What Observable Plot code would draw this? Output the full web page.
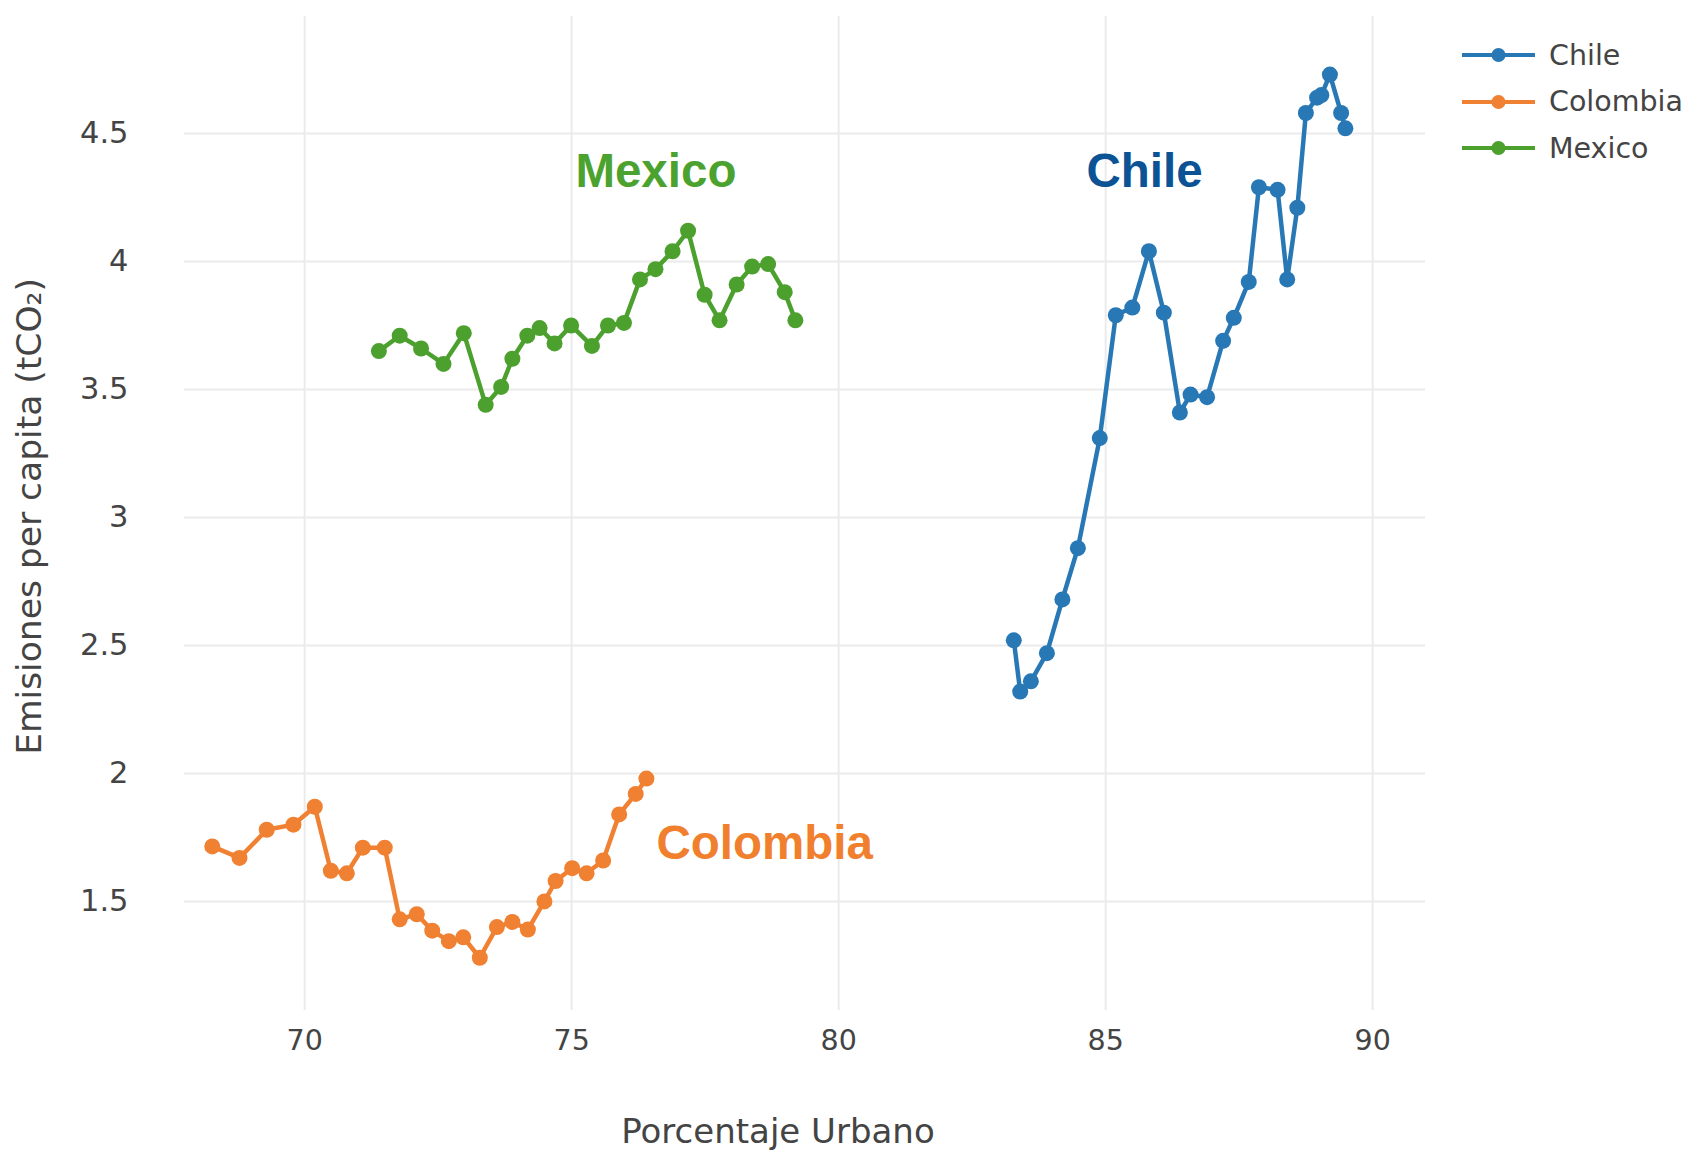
<!DOCTYPE html>
<html>
<head>
<meta charset="utf-8">
<script src="https://cdn.jsdelivr.net/npm/d3@7"></script>
<script src="https://cdn.jsdelivr.net/npm/@observablehq/plot@0.6"></script>
<style>
  html, body { margin: 0; padding: 0; background: #fff; }
  #wrap { position: relative; width: 1695px; height: 1158px; overflow: hidden; }
  #legend { position: absolute; left: 1462px; top: 32px; font-family: "DejaVu Sans", Verdana, sans-serif; font-size: 28.5px; color: #444; }
  #legend .row { display: flex; align-items: center; height: 46.5px; }
  #legend svg { margin-right: 14px; }
</style>
</head>
<body>
<div id="wrap"><div id="chart"></div><div id="legend"></div></div>
<script>
// ---- data ----
const countries = ["Chile", "Colombia", "Mexico"];
const seriesColors = ["#2878b5", "#f08032", "#4ca02e"];

const chileX = [83.28, 83.40, 83.60, 83.90, 84.19, 84.48, 84.89, 85.19, 85.50, 85.81, 86.09, 86.39, 86.59, 86.90, 87.20, 87.40, 87.68, 87.87, 88.22, 88.40, 88.59, 88.75, 88.96, 89.04, 89.20, 89.41, 89.49];
const chileY = [2.52, 2.32, 2.36, 2.47, 2.68, 2.88, 3.31, 3.79, 3.82, 4.04, 3.80, 3.41, 3.48, 3.47, 3.69, 3.78, 3.92, 4.29, 4.28, 3.93, 4.21, 4.58, 4.64, 4.65, 4.73, 4.58, 4.52];

const colombiaX = [68.27, 68.78, 69.29, 69.79, 70.19, 70.49, 70.79, 71.09, 71.50, 71.78, 72.10, 72.39, 72.70, 72.97, 73.28, 73.60, 73.89, 74.18, 74.49, 74.70, 75.01, 75.28, 75.59, 75.89, 76.20, 76.40];
const colombiaY = [1.715, 1.67, 1.78, 1.80, 1.87, 1.62, 1.61, 1.71, 1.71, 1.43, 1.45, 1.386, 1.345, 1.36, 1.28, 1.40, 1.42, 1.39, 1.50, 1.58, 1.63, 1.61, 1.66, 1.84, 1.92, 1.98];

const mexicoX = [71.39, 71.78, 72.18, 72.60, 72.98, 73.39, 73.68, 73.89, 74.17, 74.40, 74.68, 74.99, 75.38, 75.68, 75.98, 76.28, 76.57, 76.89, 77.18, 77.49, 77.77, 78.09, 78.38, 78.68, 78.99, 79.19];
const mexicoY = [3.65, 3.71, 3.66, 3.60, 3.72, 3.44, 3.51, 3.62, 3.71, 3.74, 3.68, 3.75, 3.67, 3.75, 3.76, 3.93, 3.97, 4.04, 4.12, 3.87, 3.77, 3.91, 3.98, 3.99, 3.88, 3.77];

const xTicks = [70, 75, 80, 85, 90];
const yTicks = [1.5, 2, 2.5, 3, 3.5, 4, 4.5];
const xTitle = "Porcentaje Urbano";
const yTitle = "Emisiones per capita (tCO₂)";

const labelNames = ["Mexico", "Chile", "Colombia"];
const labelX = [75.07, 84.64, 76.59];
const labelY = [4.35, 4.35, 1.727];
const labelColors = ["#4ca22f", "#0b5394", "#f07f2e"];

// ---- build tables ----
const rows = [];
[[countries[0], chileX, chileY], [countries[1], colombiaX, colombiaY], [countries[2], mexicoX, mexicoY]]
  .forEach(([c, xs, ys]) => xs.forEach((x, i) => rows.push({country: c, x, y: ys[i]})));
const labels = labelNames.map((n, i) => ({name: n, x: labelX[i], y: labelY[i], color: labelColors[i]}));

const font = "'DejaVu Sans', Verdana, sans-serif";

const chart = Plot.plot({
  width: 1695,
  height: 1158,
  marginLeft: 184,
  marginRight: 270,
  marginTop: 16,
  marginBottom: 148,
  style: {fontFamily: font, fontSize: "29px", color: "#444", background: "#fff"},
  x: {domain: [67.75, 90.99]},
  y: {domain: [1.074, 4.957]},
  color: {domain: countries, range: seriesColors},
  marks: [
    Plot.gridX(xTicks, {stroke: "#ebebeb", strokeOpacity: 1, strokeWidth: 2}),
    Plot.gridY(yTicks, {stroke: "#ebebeb", strokeOpacity: 1, strokeWidth: 2}),
    Plot.axisX(xTicks, {tickSize: 0, tickPadding: 19, tickFormat: d => String(d), fill: "#444", label: null, fontSize: 28.5}),
    Plot.axisY(yTicks, {tickSize: 0, tickPadding: 56, tickFormat: d => String(d), fill: "#444", label: null, fontSize: 30.5}),
    Plot.text([xTitle], {frameAnchor: "bottom", dx: -27, dy: 122, lineAnchor: "middle", textAnchor: "middle",
      fill: "#444", fontSize: 34}),
    Plot.text([yTitle], {frameAnchor: "left", dx: -155, dy: 3, rotate: -90, lineAnchor: "middle", textAnchor: "middle",
      fill: "#444", fontSize: 34.5}),
    Plot.line(rows, {x: "x", y: "y", z: "country", stroke: "country", strokeWidth: 4.5}),
    Plot.dot(rows, {x: "x", y: "y", fill: "country", r: 8}),
    Plot.text(labels, {x: "x", y: "y", text: "name", fill: "color", textAnchor: "start",
      fontSize: 47.5, fontWeight: "bold", fontFamily: "'Liberation Sans', Arial, sans-serif"})
  ]
});
document.getElementById("chart").appendChild(chart);

// ---- legend ----
const legend = document.getElementById("legend");
countries.forEach((c, i) => {
  const row = document.createElement("div");
  row.className = "row";
  row.innerHTML = `<svg width="73" height="20"><line x1="0" x2="73" y1="10" y2="10" stroke="${seriesColors[i]}" stroke-width="4"/><circle cx="36.5" cy="10" r="7" fill="${seriesColors[i]}"/></svg><span>${c}</span>`;
  legend.appendChild(row);
});
</script>
</body>
</html>
